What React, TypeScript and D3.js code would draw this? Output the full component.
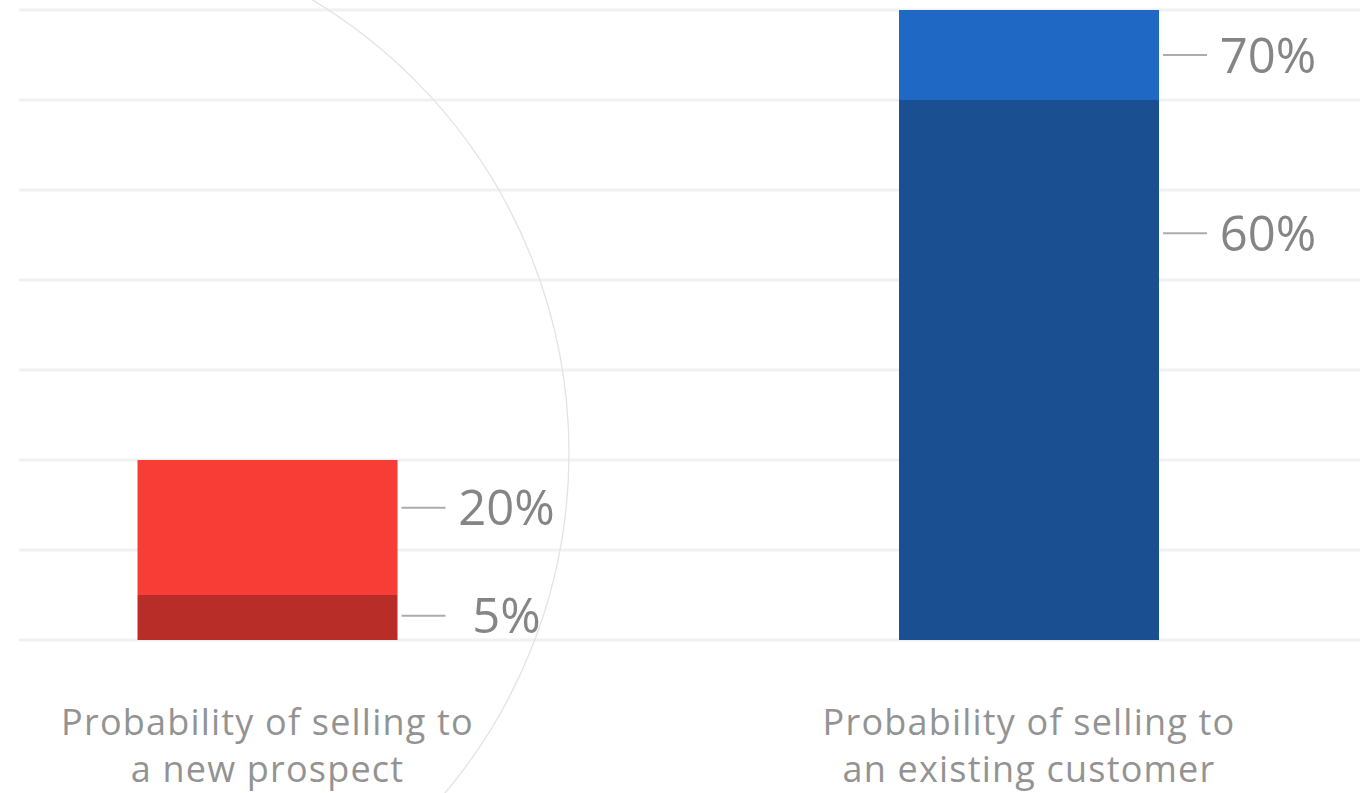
import React from "react";
import * as d3 from "d3";

// ---- data ----
const categories = ["new", "existing"];
const categoryLabels = [
  ["Probability of selling to", "a new prospect"],
  ["Probability of selling to", "an existing customer"],
];
const baseValues = [5, 60]; // lower (darker) segment, %
const totalValues = [20, 70]; // top of the bar, %
const gridTicks = [0, 10, 20, 30, 40, 50, 60, 70];
// value (in %) at which each callout sits
const topLabelAnchors = [14.7, 65];
const baseLabelAnchors = [2.7, 45.2];

// ---- styling ----
const W = 1360;
const H = 793;
const topColors = ["#f73d36", "#1f68c3"];
const baseColors = ["#b82d28", "#1a4f92"];
const FONT = "'Open Sans', Lato, sans-serif";

export default function App() {
  const y = d3.scaleLinear().domain([0, 70]).range([640, 10]);
  const x = d3.scalePoint<string>().domain(categories).range([267.5, 1029]);
  const barW = 260;

  const labels = (cx: number, value: number, anchor: number, key: string) => {
    const right = cx + barW / 2;
    const ly = y(anchor);
    return (
      <g key={key}>
        <line x1={right + 4} x2={right + 48} y1={ly} y2={ly} stroke="#acacac" strokeWidth={2} />
        <text
          x={right + 109}
          y={ly}
          dy="0.36em"
          textAnchor="middle"
          fontFamily={FONT}
          fontSize={49}
          fill="#858585"
        >
          {value}%
        </text>
      </g>
    );
  };

  return (
    <svg
      width={W}
      height={H}
      style={{ position: "absolute", left: 0, top: 0, background: "#fff" }}
    >
      {gridTicks.map((t) => (
        <line key={t} x1={19} x2={W} y1={y(t)} y2={y(t)} stroke="#f1f1f1" strokeWidth={3} />
      ))}
      <circle cx={41} cy={453} r={528} fill="none" stroke="#e3e3e3" strokeWidth={1.3} />
      {categories.map((c, i) => {
        const cx = x(c)!;
        return (
          <g key={c}>
            <rect
              x={cx - barW / 2}
              y={y(totalValues[i])}
              width={barW}
              height={y(baseValues[i]) - y(totalValues[i])}
              fill={topColors[i]}
            />
            <rect
              x={cx - barW / 2}
              y={y(baseValues[i])}
              width={barW}
              height={y(0) - y(baseValues[i])}
              fill={baseColors[i]}
            />
            {labels(cx, totalValues[i], topLabelAnchors[i], "t" + c)}
            {labels(cx, baseValues[i], baseLabelAnchors[i], "b" + c)}
            <text
              x={cx}
              textAnchor="middle"
              fontFamily={FONT}
              fontSize={36}
              letterSpacing={1.2}
              fill="#939393"
            >
              <tspan x={cx} y={735}>{categoryLabels[i][0]}</tspan>
              <tspan x={cx} y={782}>{categoryLabels[i][1]}</tspan>
            </text>
          </g>
        );
      })}
    </svg>
  );
}
